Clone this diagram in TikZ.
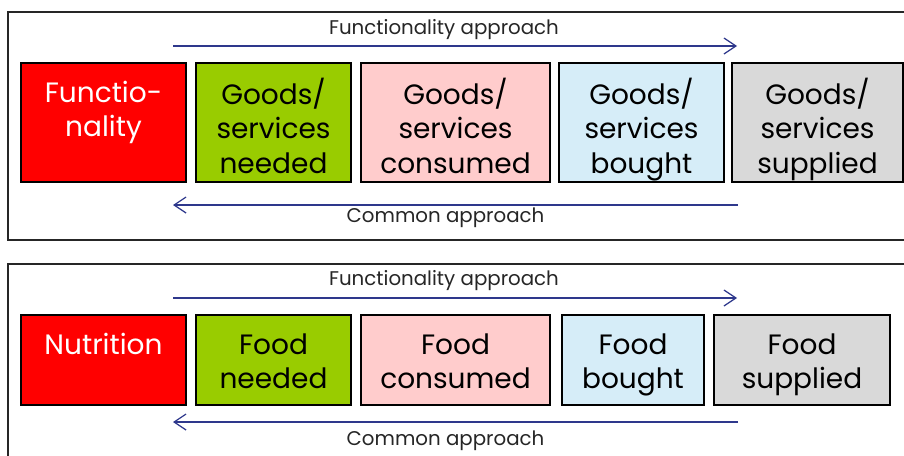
\documentclass[tikz,border=0pt]{standalone}
\usepackage{fontspec}
\setmainfont{Poppins}
\usetikzlibrary{arrows.meta}
\definecolor{arrowblue}{RGB}{46,56,140}
\definecolor{fred}{RGB}{255,0,0}
\definecolor{fgreen}{RGB}{153,204,0}
\definecolor{fpink}{RGB}{255,204,204}
\definecolor{fblue}{RGB}{214,237,248}
\definecolor{fgrey}{RGB}{217,217,217}
\newcommand{\boxlabel}[3]{\parbox[c][#2pt][t]{#1pt}{\centering\fontsize{28}{34.5}\selectfont\vspace*{15pt}\strut #3\par}}
\begin{document}
\begin{tikzpicture}[x=1pt,y=-1pt,
  frame/.style={draw=black!85, line width=1.3pt},
  box/.style={draw=black, line width=1.2pt, inner sep=0pt, outer sep=0pt},
  flow/.style={draw=arrowblue, line width=1.2pt, -{Straight Barb[length=12pt,width=16pt]}},
  lab/.style={font=\fontsize{19.8}{23}\selectfont, inner sep=0pt, anchor=base, text=black!85}]
\useasboundingbox (0,0) rectangle (904,455);
\fill[white] (0,0) rectangle (904,455);
% frames
\draw[frame] (8,12) rectangle (912,240);
\draw[frame] (8,264) rectangle (912,470);
% top section
\node[lab] (tf) at (444,34.5) {Functionality approach};
\node[lab] (tc) at (445.5,222.5) {Common approach};
\coordinate (tfa) at (173,46);
\coordinate (tfb) at (737,46);
\coordinate (tca) at (738,205);
\coordinate (tcb) at (173,205);
\draw[flow] (tfa) -- (tfb);
\draw[flow] (tca) -- (tcb);
\node[box, fill=fred, text=white] (t1) at (103.5,122.5) {\boxlabel{165}{119}{Functio-\\nality}};
\node[box, fill=fgreen] (t2) at (273.5,122.5) {\boxlabel{155}{119}{Goods/\\services\\needed}};
\node[box, fill=fpink] (t3) at (455.5,122.5) {\boxlabel{189}{119}{Goods/\\services\\consumed}};
\node[box, fill=fblue] (t4) at (641.5,122.5) {\boxlabel{165}{119}{Goods/\\services\\bought}};
\node[box, fill=fgrey] (t5) at (817.5,122.5) {\boxlabel{171}{119}{Goods/\\services\\supplied}};
% bottom section
\node[lab] (bf) at (444,285) {Functionality approach};
\node[lab] (bc) at (445.5,445) {Common approach};
\coordinate (bfa) at (173,298);
\coordinate (bfb) at (737,298);
\coordinate (bca) at (738,422);
\coordinate (bcb) at (173,422);
\draw[flow] (bfa) -- (bfb);
\draw[flow] (bca) -- (bcb);
\node[box, fill=fred, text=white] (b1) at (103.5,360) {\boxlabel{165}{90}{Nutrition}};
\node[box, fill=fgreen] (b2) at (273.5,360) {\boxlabel{155}{90}{Food\\needed}};
\node[box, fill=fpink] (b3) at (455.5,360) {\boxlabel{189}{90}{Food\\consumed}};
\node[box, fill=fblue] (b4) at (633,360) {\boxlabel{142}{90}{Food\\bought}};
\node[box, fill=fgrey] (b5) at (802,360) {\boxlabel{176}{90}{Food\\supplied}};
\end{tikzpicture}
\end{document}
